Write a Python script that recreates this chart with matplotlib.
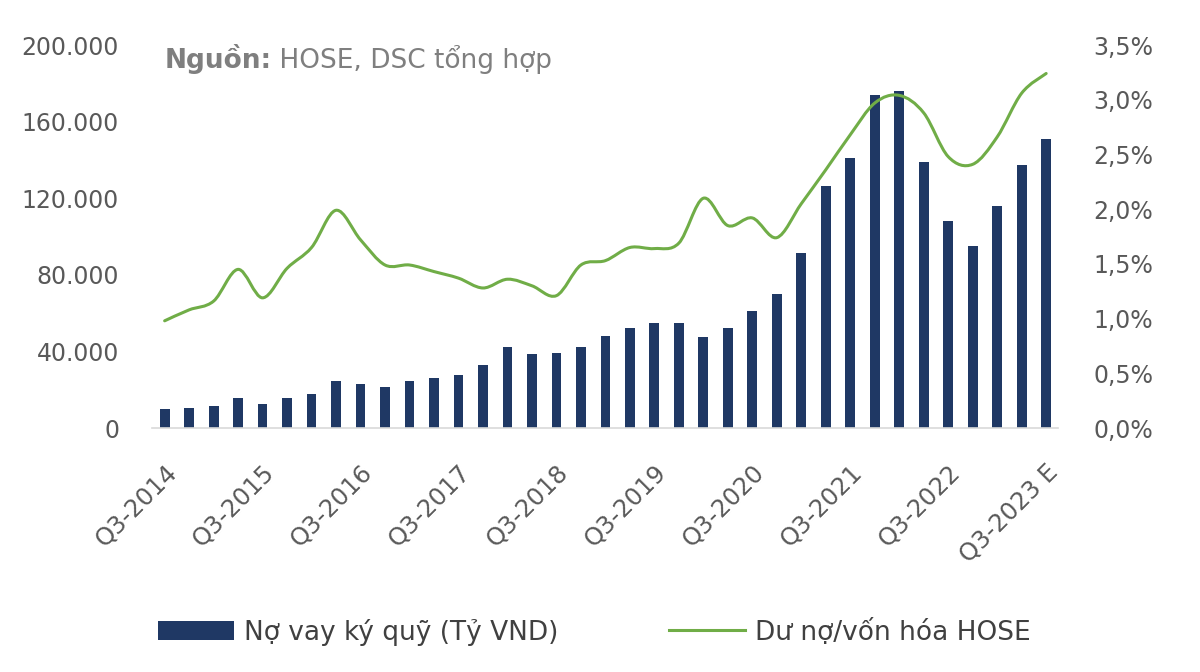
import matplotlib
matplotlib.use("Agg")
import matplotlib.pyplot as plt
import matplotlib.transforms as mtransforms
from matplotlib.path import Path
from matplotlib.patches import PathPatch, Patch
from matplotlib.lines import Line2D
from matplotlib.ticker import FuncFormatter, MultipleLocator

plt.rcParams["font.family"] = ["DejaVu Sans"]

# Quarterly data, Q3-2014 .. Q3-2023 E
quarters = ["Q%d-%d" % (q, y) for y in range(2014, 2024) for q in (1, 2, 3, 4)][2:39]
quarters[-1] = "Q3-2023 E"

# margin debt (bn VND)
margin_debt = [
    9900, 10500, 11600, 15500, 12700, 15800, 17600, 24800, 23200, 21400,
    24500, 26400, 27500, 32700, 42500, 38500, 39200, 42300, 48000, 52400,
    54700, 54700, 47700, 52400, 61100, 69800, 91200, 126200, 141000, 174100,
    175800, 138900, 108300, 95200, 116100, 137500, 151100,
]

# margin debt / HOSE market cap (%)
debt_to_cap = [
    0.98, 1.08, 1.16, 1.45, 1.19, 1.46, 1.65, 1.99, 1.72, 1.49,
    1.49, 1.43, 1.37, 1.28, 1.36, 1.30, 1.21, 1.49, 1.53, 1.65,
    1.64, 1.69, 2.10, 1.85, 1.92, 1.74, 2.05, 2.36, 2.68, 2.97,
    3.04, 2.88, 2.48, 2.41, 2.66, 3.06, 3.24,
]

BAR_COLOR = "#1f3864"
LINE_COLOR = "#70ad47"
TICK_COLOR = "#595959"


def smooth_path(xs, ys):
    """Excel-like smoothed line as cubic Bezier segments."""
    n = len(xs)
    verts = [(xs[0], ys[0])]
    codes = [Path.MOVETO]
    for i in range(n - 1):
        x0, y0 = (xs[i - 1], ys[i - 1]) if i > 0 else (xs[i], ys[i])
        x1, y1 = xs[i], ys[i]
        x2, y2 = xs[i + 1], ys[i + 1]
        x3, y3 = (xs[i + 2], ys[i + 2]) if i + 2 < n else (x2, y2)
        c1 = (x1 + (x2 - x0) / 6, y1 + (y2 - y0) / 6)
        c2 = (x2 - (x3 - x1) / 6, y2 - (y3 - y1) / 6)
        verts += [c1, c2, (x2, y2)]
        codes += [Path.CURVE4] * 3
    return Path(verts, codes)


fig = plt.figure(figsize=(12, 6.72), dpi=100)
ax = fig.add_axes([0.127, 0.363, 0.755, 0.570])
ax2 = ax.twinx()

x = list(range(len(quarters)))
ax.bar(x, margin_debt, width=0.4, color=BAR_COLOR, zorder=2)

pct = [v / 100 for v in debt_to_cap]
ax2.add_patch(PathPatch(smooth_path(x, pct), facecolor="none",
                        edgecolor=LINE_COLOR, lw=2.2, capstyle="round", zorder=3))

ax.set_xlim(-0.5, len(x) - 0.5)
ax.set_ylim(0, 200000)
ax2.set_ylim(0, 0.035)

ax.yaxis.set_major_locator(MultipleLocator(40000))
ax.yaxis.set_major_formatter(FuncFormatter(lambda v, p: f"{int(v):,}".replace(",", ".")))
ax2.yaxis.set_major_locator(MultipleLocator(0.005))
ax2.yaxis.set_major_formatter(FuncFormatter(lambda v, p: f"{v * 100:.1f}%".replace(".", ",")))

ax.set_xticks(x[::4])
ax.set_xticklabels(quarters[::4], rotation=45, ha="right", va="top",
                   rotation_mode="anchor")
shift = mtransforms.ScaledTranslation(-6 / 72, 0, fig.dpi_scale_trans)
for lbl in ax.get_xticklabels():
    lbl.set_transform(lbl.get_transform() + shift)

for a in (ax, ax2):
    for s in a.spines.values():
        s.set_visible(False)
ax.spines["bottom"].set_visible(True)
ax.spines["bottom"].set_color("#d9d9d9")
ax.spines["bottom"].set_linewidth(1.2)

ax.tick_params(axis="x", length=0, pad=23, labelsize=17.5, labelcolor=TICK_COLOR)
ax.tick_params(axis="y", length=0, pad=24, labelsize=17, labelcolor=TICK_COLOR)
ax2.tick_params(axis="y", length=0, pad=25, labelsize=17, labelcolor=TICK_COLOR)

# source note
t1 = ax.text(0.013, 0.963, "Nguồn:", transform=ax.transAxes, fontsize=19,
             fontweight="bold", color="#7f7f7f", va="center", ha="left")
ax.annotate(" HOSE, DSC tổng hợp", xy=(1, 0.5), xycoords=t1, fontsize=19,
            color="#7f7f7f", va="center", ha="left")

handles = [
    Patch(facecolor=BAR_COLOR, edgecolor="none", label="Nợ vay ký quỹ (Tỷ VND)"),
    Line2D([], [], color=LINE_COLOR, lw=2.2, label="Dư nợ/vốn hóa HOSE"),
]
fig.legend(handles=handles, loc="center", bbox_to_anchor=(0.495, 1 - 632 / 672),
           ncol=2, frameon=False, fontsize=19, handlelength=2.9,
           handletextpad=0.35, columnspacing=4.2, labelcolor="#404040")

fig.savefig("out.png", dpi=100)
